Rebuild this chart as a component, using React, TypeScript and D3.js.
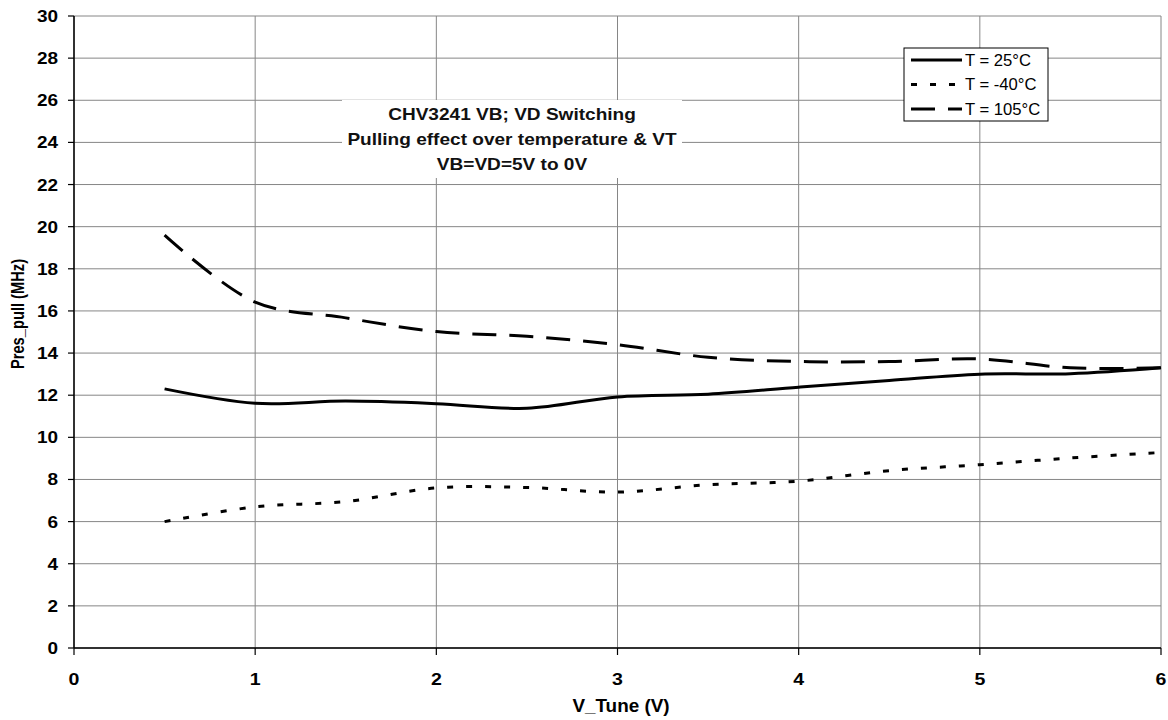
import React from "react";
import * as d3 from "d3";

const vTune = [0.5, 1, 1.5, 2, 2.5, 3, 3.5, 4, 4.5, 5, 5.5, 6];
const t25 = [12.3, 11.62, 11.72, 11.6, 11.38, 11.92, 12.05, 12.38, 12.7, 13.0, 13.02, 13.3];
const tm40 = [6.0, 6.7, 6.95, 7.6, 7.62, 7.4, 7.75, 7.92, 8.42, 8.7, 9.02, 9.28];
const t105 = [19.6, 16.42, 15.67, 15.02, 14.8, 14.4, 13.8, 13.6, 13.6, 13.72, 13.3, 13.3];

const xTicks = [0, 1, 2, 3, 4, 5, 6];
const yTicks = [0, 2, 4, 6, 8, 10, 12, 14, 16, 18, 20, 22, 24, 26, 28, 30];

const seriesNames = ["T = 25°C", "T = -40°C", "T = 105°C"];
const seriesValues = [t25, tm40, t105];
const seriesDash = ["none", "6,13", "24,13"];

const titleLines = [
  "CHV3241 VB; VD Switching",
  "Pulling effect over temperature & VT",
  "VB=VD=5V to 0V",
];

const FONT = "Arial, 'Liberation Sans', Helvetica, sans-serif";

export default function App() {
  const left = 74, right = 1161, top = 16, bottom = 648;
  const x = d3.scaleLinear().domain([0, 6]).range([left, right]);
  const y = d3.scaleLinear().domain([0, 30]).range([bottom, top]);
  const line = d3
    .line<number>()
    .x((_, i) => x(vTune[i]))
    .y((d) => y(d))
    .curve(d3.curveCatmullRom.alpha(0.5));

  const grid = "#868686";

  return (
    <svg
      width={1168}
      height={720}
      style={{ position: "absolute", left: 0, top: 0, background: "#fff" }}
      fontFamily={FONT}
    >
      <rect x={0} y={0} width={1168} height={720} fill="#fff" />
      {yTicks.map((t) => (
        <line key={"hy" + t} x1={left} x2={right} y1={y(t)} y2={y(t)} stroke={grid} strokeWidth={1} />
      ))}
      {xTicks.map((t) => (
        <line key={"vx" + t} x1={x(t)} x2={x(t)} y1={top} y2={bottom} stroke={grid} strokeWidth={1} />
      ))}
      {/* title box */}
      <rect x={342} y={100} width={340} height={78} fill="#fff" />
      {titleLines.map((s, i) => (
        <text
          key={"tl" + i}
          transform={`translate(512,${120 + i * 25}) scale(1.17,1)`}
          textAnchor="middle"
          fontSize={16.3}
          fontWeight="bold"
          fill="#111"
        >
          {s}
        </text>
      ))}
      {/* axes */}
      <line x1={left} x2={left} y1={top} y2={bottom} stroke="#000" strokeWidth={1.5} />
      <line x1={left} x2={right} y1={bottom} y2={bottom} stroke="#000" strokeWidth={1.5} />
      {yTicks.map((t) => (
        <g key={"yt" + t}>
          <line x1={left - 6} x2={left} y1={y(t)} y2={y(t)} stroke="#000" strokeWidth={1.2} />
          <text
            transform={`translate(58,${y(t) + 6}) scale(1.15,1)`}
            textAnchor="end"
            fontSize={16.5}
            fontWeight="bold"
          >
            {t}
          </text>
        </g>
      ))}
      {xTicks.map((t) => (
        <g key={"xt" + t}>
          <line x1={x(t)} x2={x(t)} y1={bottom} y2={bottom + 7} stroke="#000" strokeWidth={1.2} />
          <text
            transform={`translate(${x(t)},685) scale(1.15,1)`}
            textAnchor="middle"
            fontSize={17}
            fontWeight="bold"
          >
            {t}
          </text>
        </g>
      ))}
      <text
        transform="translate(621,712) scale(1.05,1)"
        textAnchor="middle"
        fontSize={18}
        fontWeight="bold"
      >
        V_Tune (V)
      </text>
      <text
        transform="translate(24,314) rotate(-90) scale(1,1.2)"
        textAnchor="middle"
        fontSize={14.7}
        fontWeight="bold"
      >
        Pres_pull (MHz)
      </text>
      {seriesValues.map((vals, i) => (
        <path
          key={"s" + i}
          d={line(vals) || ""}
          fill="none"
          stroke="#000"
          strokeWidth={3}
          strokeDasharray={seriesDash[i]}
        />
      ))}
      {/* legend */}
      <rect x={904} y={48} width={144} height={73} fill="#fff" stroke="#000" strokeWidth={1} />
      {seriesNames.map((n, i) => (
        <g key={"lg" + i}>
          <line
            x1={911}
            x2={962}
            y1={60 + i * 24.5}
            y2={60 + i * 24.5}
            stroke="#000"
            strokeWidth={3}
            strokeDasharray={seriesDash[i]}
          />
          <text
            transform={`translate(965,${65.5 + i * 24.5}) scale(1.04,1)`}
            fontSize={16}
            fill="#000"
          >
            {n}
          </text>
        </g>
      ))}
    </svg>
  );
}
